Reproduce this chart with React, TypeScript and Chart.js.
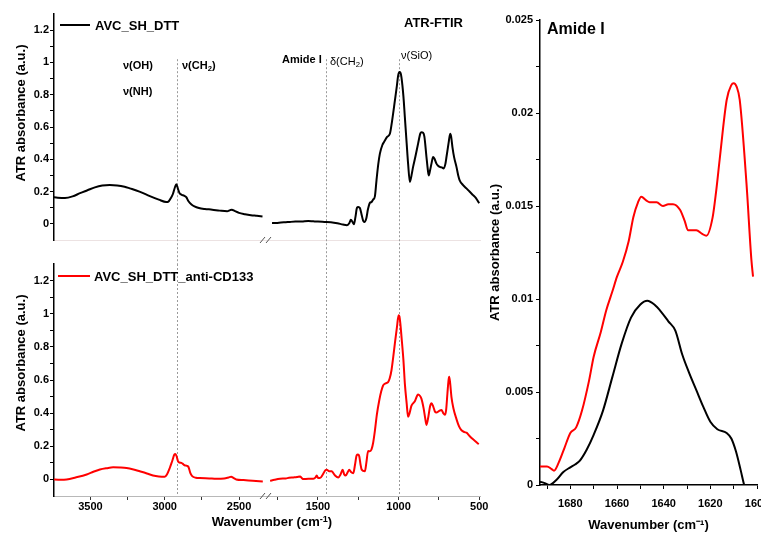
import React, { useEffect, useRef } from 'react';
import { Chart, registerables } from 'chart.js';

Chart.register(...registerables);

const FONT = '"Liberation Sans", Arial, Helvetica, sans-serif';

// ---------------- DATA ----------------
// AVC_SH_DTT (black), high-wavenumber segment
const dttHighWn = [3760, 3720, 3671, 3620, 3570, 3520, 3470, 3420, 3370, 3320, 3270, 3235, 3170, 3100, 3040, 2990, 2975, 2960, 2945, 2930, 2922, 2912, 2900, 2885, 2870, 2855, 2840, 2820, 2800, 2770, 2730, 2680, 2630, 2580, 2560, 2548, 2530, 2500, 2460, 2420, 2380, 2342];
const dttHighAbs = [0.166, 0.162, 0.16, 0.17, 0.19, 0.208, 0.226, 0.237, 0.24, 0.238, 0.23, 0.22, 0.2, 0.172, 0.15, 0.135, 0.138, 0.158, 0.185, 0.23, 0.246, 0.22, 0.19, 0.18, 0.175, 0.165, 0.14, 0.12, 0.108, 0.098, 0.092, 0.088, 0.082, 0.078, 0.085, 0.088, 0.08, 0.068, 0.06, 0.054, 0.05, 0.046];
// AVC_SH_DTT (black), low-wavenumber segment
const dttLowWn = [1785, 1760, 1730, 1700, 1673, 1640, 1600, 1560, 1530, 1500, 1460, 1420, 1380, 1345, 1320, 1305, 1296, 1285, 1277, 1268, 1258, 1250, 1240, 1230, 1220, 1212, 1200, 1190, 1178, 1168, 1158, 1147, 1137, 1126, 1116, 1100, 1091, 1070, 1054, 1040, 1023, 1010, 1003, 995, 988, 982, 970, 961, 950, 941, 930, 920, 910, 895, 879, 865, 858, 848, 840, 827, 818, 813, 805, 796, 786, 778, 765, 755, 745, 732, 720, 710, 703, 690, 680, 674, 666, 655, 641, 630, 621, 600, 579, 560, 538, 520, 500];
const dttLowAbs = [0.006, 0.005, 0.008, 0.01, 0.012, 0.014, 0.015, 0.018, 0.016, 0.014, 0.012, 0.01, 0.004, -0.004, -0.008, 0.005, 0.025, 0.01, -0.002, 0.04, 0.1, 0.105, 0.098, 0.06, 0.02, 0.012, 0.035, 0.09, 0.13, 0.135, 0.15, 0.17, 0.27, 0.37, 0.435, 0.49, 0.506, 0.54, 0.558, 0.64, 0.763, 0.86, 0.917, 0.94, 0.935, 0.906, 0.79, 0.66, 0.5, 0.373, 0.26, 0.3, 0.353, 0.42, 0.497, 0.56, 0.568, 0.565, 0.54, 0.414, 0.33, 0.3, 0.33, 0.373, 0.414, 0.405, 0.373, 0.36, 0.353, 0.35, 0.343, 0.37, 0.414, 0.5, 0.558, 0.54, 0.476, 0.41, 0.353, 0.3, 0.27, 0.24, 0.22, 0.2, 0.178, 0.16, 0.127];

// AVC_SH_DTT_anti-CD133 (red), high-wavenumber segment
const cdHighWn = [3760, 3700, 3660, 3600, 3525, 3480, 3436, 3390, 3347, 3300, 3257, 3210, 3168, 3120, 3079, 3040, 3000, 2985, 2966, 2950, 2935, 2928, 2920, 2911, 2900, 2888, 2875, 2866, 2850, 2840, 2828, 2815, 2790, 2765, 2700, 2653, 2600, 2570, 2553, 2535, 2519, 2470, 2408, 2340];
const cdHighAbs = [0.0, -0.002, 0.0, 0.012, 0.03, 0.046, 0.06, 0.068, 0.073, 0.072, 0.069, 0.06, 0.049, 0.036, 0.024, 0.018, 0.016, 0.03, 0.069, 0.11, 0.15, 0.154, 0.14, 0.11, 0.102, 0.1, 0.092, 0.085, 0.082, 0.075, 0.04, 0.02, 0.01, 0.008, 0.006, 0.004, 0.006, 0.012, 0.016, 0.008, 0.0, -0.004, -0.008, -0.012];
// AVC_SH_DTT_anti-CD133 (red), low-wavenumber segment
const cdLowWn = [1797, 1770, 1735, 1700, 1680, 1653, 1630, 1611, 1600, 1591, 1560, 1529, 1515, 1508, 1498, 1488, 1470, 1455, 1446, 1430, 1415, 1395, 1374, 1360, 1347, 1337, 1327, 1315, 1306, 1295, 1281, 1270, 1260, 1252, 1244, 1236, 1229, 1209, 1200, 1189, 1178, 1168, 1158, 1147, 1135, 1120, 1108, 1096, 1080, 1065, 1055, 1044, 1033, 1023, 1010, 1000, 995, 988, 982, 970, 961, 950, 941, 932, 920, 900, 879, 868, 858, 845, 835, 827, 815, 805, 796, 785, 775, 765, 750, 734, 723, 713, 705, 697, 690, 686, 680, 672, 660, 641, 625, 610, 590, 579, 560, 538, 520, 503];
const cdLowAbs = [-0.008, -0.002, 0.004, 0.006, 0.01, 0.012, 0.014, 0.018, 0.008, 0.002, 0.004, 0.004, 0.012, 0.024, 0.008, 0.008, 0.03, 0.055, 0.059, 0.05, 0.049, 0.025, 0.012, 0.03, 0.059, 0.03, 0.024, 0.045, 0.059, 0.045, 0.038, 0.09, 0.146, 0.15, 0.14, 0.09, 0.059, 0.049, 0.1, 0.171, 0.17, 0.181, 0.22, 0.293, 0.39, 0.476, 0.53, 0.567, 0.58, 0.587, 0.61, 0.659, 0.74, 0.821, 0.92, 0.99, 0.985, 0.93, 0.862, 0.72, 0.577, 0.46, 0.378, 0.4, 0.445, 0.47, 0.512, 0.505, 0.486, 0.43, 0.37, 0.329, 0.38, 0.44, 0.459, 0.44, 0.41, 0.404, 0.412, 0.419, 0.4, 0.39, 0.42, 0.52, 0.6, 0.62, 0.58, 0.496, 0.43, 0.364, 0.32, 0.297, 0.285, 0.282, 0.262, 0.242, 0.228, 0.212];

// Amide I zoom
const amideDttWn = [1693, 1691, 1689, 1686, 1683, 1680, 1678, 1676, 1673, 1670, 1666, 1662, 1658, 1654, 1650, 1647, 1644, 1641, 1638, 1635, 1632, 1629, 1626, 1623, 1620, 1617, 1613, 1611, 1609, 1607, 1605.5, 1604];
const amideDttAbs = [0.00018, 0.0001, 0.0, 0.00027, 0.0007, 0.00095, 0.0011, 0.0013, 0.0019, 0.0027, 0.004, 0.0058, 0.0076, 0.009, 0.0097, 0.0099, 0.0097, 0.0093, 0.0088, 0.0083, 0.007, 0.006, 0.0051, 0.0042, 0.0034, 0.003, 0.0028, 0.0025, 0.0018, 0.0008, 0.0, -0.0006];
const amideCdWn = [1693, 1690, 1688, 1687, 1685, 1682.5, 1680, 1677.5, 1675, 1672, 1670, 1667, 1664.6, 1662, 1660, 1657.5, 1655, 1653, 1651, 1649.6, 1647.5, 1646, 1643, 1640.3, 1638, 1636, 1633, 1631, 1629.6, 1626, 1623.5, 1621.7, 1619, 1617.5, 1616, 1613, 1611, 1610, 1608.7, 1607.4, 1604.5, 1602.4, 1601.7];
const amideCdAbs = [0.001, 0.001, 0.00085, 0.00077, 0.0012, 0.002, 0.0028, 0.0031, 0.004, 0.0056, 0.0069, 0.0082, 0.0094, 0.0104, 0.0112, 0.012, 0.0131, 0.0144, 0.0152, 0.0155, 0.0153, 0.0152, 0.0152, 0.015, 0.0151, 0.0151, 0.0148, 0.0142, 0.0137, 0.0137, 0.0135, 0.0134, 0.0144, 0.0158, 0.0175, 0.0207, 0.0215, 0.0216, 0.0214, 0.0207, 0.0162, 0.0121, 0.0112];

// Axes ranges and ticks
const highRange = [2305, 3745];
const lowRange = [495, 1810];
const highTicks = [3500, 3250, 3000, 2750, 2500];
const highLabels = [3500, 3000, 2500];
const lowTicks = [1750, 1500, 1250, 1000, 750, 500];
const lowLabels = [1500, 1000, 500];
const absTicks = [0, 0.1, 0.2, 0.3, 0.4, 0.5, 0.6, 0.7, 0.8, 0.9, 1, 1.1, 1.2];
const absLabels = [0, 0.2, 0.4, 0.6, 0.8, 1, 1.2];
const amideRange = [1600, 1693];
const amideTicks = [1690, 1680, 1670, 1660, 1650, 1640, 1630, 1620, 1610, 1600];
const amideLabels = [1680, 1660, 1640, 1620, 1600];
const amideAbsTicks = [0, 0.0025, 0.005, 0.0075, 0.01, 0.0125, 0.015, 0.0175, 0.02, 0.0225, 0.025];
const amideAbsLabels = [0, 0.005, 0.01, 0.015, 0.02, 0.025];

// band markers (dashed lines)
const markerWn = [2920, 1450, 1000];
const markerTopAbs = 1.02;

// ---------------- helpers ----------------
const pts = (xs: number[], ys: number[]) => xs.map((x, i) => ({ x, y: ys[i] }));
const near = (arr: number[], v: number) => arr.find((m) => Math.abs(m - v) < 1e-9);
const tickFont = { family: FONT, size: 11, weight: 'bold' as const };
const titleFont = { family: FONT, size: 13, weight: 'bold' as const };

function leftConfig(isBottom: boolean, color: string, high: any[], low: any[]): any {
  const xCommon = (range: number[], ticks: number[], labels: number[], weight: number) => ({
    type: 'linear',
    position: 'bottom',
    stack: 'wn',
    stackWeight: weight,
    reverse: true,
    min: range[0],
    max: range[1],
    afterBuildTicks: (s: any) => {
      s.ticks = ticks.map((v) => ({ value: v }));
    },
    afterFit: (s: any) => {
      s.height = isBottom ? 38 : 24;
    },
    ticks: {
      display: isBottom,
      autoSkip: false,
      maxRotation: 0,
      padding: 0,
      color: '#000',
      font: tickFont,
      callback: (v: number) => {
        const m = near(labels, v);
        return m !== undefined ? String(m) : '';
      },
    },
    grid: { display: isBottom, drawOnChartArea: false, tickLength: 4, tickColor: '#333', tickWidth: 1 },
    border: { display: true, color: isBottom ? '#b8b8b8' : '#ece2e2', width: 1 },
  });

  const markers = {
    id: 'markers',
    beforeDatasetsDraw(chart: any) {
      const { ctx, chartArea } = chart;
      const xh = chart.scales.xHigh;
      const xl = chart.scales.xLow;
      const y = chart.scales.y;
      ctx.save();
      ctx.strokeStyle = '#9a9a9a';
      ctx.lineWidth = 1;
      ctx.setLineDash([2, 2]);
      markerWn.forEach((w) => {
        const sc = w >= highRange[0] ? xh : xl;
        const px = Math.round(sc.getPixelForValue(w)) + 0.5;
        const y0 = isBottom ? chartArea.top : y.getPixelForValue(markerTopAbs);
        const y1 = isBottom ? chartArea.bottom : chart.height;
        ctx.beginPath();
        ctx.moveTo(px, y0);
        ctx.lineTo(px, y1);
        ctx.stroke();
      });
      ctx.restore();
    },
    afterDraw(chart: any) {
      const { ctx, chartArea } = chart;
      const jx = chart.scales.xHigh.right;
      const by = chartArea.bottom;
      ctx.save();
      ctx.strokeStyle = '#555';
      ctx.lineWidth = 1;
      for (let i = 0; i < 2; i++) {
        ctx.beginPath();
        ctx.moveTo(jx - 8 + i * 6, by + 3);
        ctx.lineTo(jx - 3 + i * 6, by - 3);
        ctx.stroke();
      }
      ctx.restore();
    },
  };

  const ds = (data: any[], axis: string) => ({
    data,
    xAxisID: axis,
    yAxisID: 'y',
    borderColor: color,
    backgroundColor: color,
    borderWidth: 2,
    pointRadius: 0,
    fill: false,
    cubicInterpolationMode: 'monotone',
  });

  return {
    type: 'line',
    data: { datasets: [ds(high, 'xHigh'), ds(low, 'xLow')] },
    options: {
      responsive: false,
      animation: false,
      events: [],
      layout: { padding: { left: 8, right: 20, top: isBottom ? 20 : 14, bottom: 0 } },
      plugins: { legend: { display: false }, tooltip: { enabled: false } },
      scales: {
        xHigh: xCommon(highRange, highTicks, highLabels, 214),
        xLow: xCommon(lowRange, lowTicks, lowLabels, 212),
        y: {
          type: 'linear',
          position: 'left',
          min: -0.1,
          max: 1.3,
          afterBuildTicks: (s: any) => {
            s.ticks = absTicks.map((v) => ({ value: v }));
          },
          afterFit: (s: any) => {
            s.width = 46;
          },
          ticks: {
            autoSkip: false,
            padding: 1,
            color: '#000',
            font: tickFont,
            callback: (v: number) => {
              const m = near(absLabels, v);
              return m !== undefined ? String(m) : '';
            },
          },
          grid: { drawOnChartArea: false, tickLength: 4, tickColor: '#000', tickWidth: 1 },
          border: { display: true, color: '#000', width: 1.5 },
          title: { display: false },
        },
      },
    },
    plugins: [markers],
  };
}

function amideConfig(): any {
  const ds = (data: any[], color: string) => ({
    data,
    xAxisID: 'x',
    yAxisID: 'y',
    borderColor: color,
    backgroundColor: color,
    borderWidth: 2,
    pointRadius: 0,
    fill: false,
    cubicInterpolationMode: 'monotone',
  });
  return {
    type: 'line',
    data: {
      datasets: [ds(pts(amideCdWn, amideCdAbs), '#ff0000'), ds(pts(amideDttWn, amideDttAbs), '#000000')],
    },
    options: {
      responsive: false,
      animation: false,
      events: [],
      layout: { padding: { left: 4, right: 33, top: 20, bottom: 0 } },
      plugins: { legend: { display: false }, tooltip: { enabled: false } },
      scales: {
        x: {
          type: 'linear',
          position: 'bottom',
          reverse: true,
          min: amideRange[0],
          max: amideRange[1],
          afterBuildTicks: (s: any) => {
            s.ticks = amideTicks.map((v) => ({ value: v }));
          },
          afterFit: (s: any) => {
            s.height = 49;
          },
          ticks: {
            autoSkip: false,
            maxRotation: 0,
            padding: 8,
            color: '#000',
            font: tickFont,
            callback: (v: number) => {
              const m = near(amideLabels, v);
              return m !== undefined ? String(m) : '';
            },
          },
          grid: { drawOnChartArea: false, tickLength: 4, tickColor: '#000', tickWidth: 1 },
          border: { display: true, color: '#000', width: 1.5 },
          title: {
            display: true,
            text: 'Wavenumber (cm\u207B\u00B9)',
            color: '#000',
            font: titleFont,
            padding: { top: 0, bottom: 1 },
          },
        },
        y: {
          type: 'linear',
          position: 'left',
          min: 0,
          max: 0.025,
          afterBuildTicks: (s: any) => {
            s.ticks = amideAbsTicks.map((v) => ({ value: v }));
          },
          afterFit: (s: any) => {
            s.width = 56;
          },
          ticks: {
            autoSkip: false,
            padding: 3,
            color: '#000',
            font: tickFont,
            callback: (v: number) => {
              const m = near(amideAbsLabels, v);
              return m !== undefined ? String(m) : '';
            },
          },
          grid: { drawOnChartArea: false, tickLength: 4, tickColor: '#000', tickWidth: 1 },
          border: { display: true, color: '#000', width: 1.5 },
          title: {
            display: true,
            text: 'ATR absorbance (a.u.)',
            color: '#000',
            font: titleFont,
            padding: { top: 4, bottom: 0 },
          },
        },
      },
    },
  };
}

function ChartBox({ make, left, top, width, height }: any) {
  const ref = useRef<HTMLCanvasElement>(null);
  useEffect(() => {
    const chart = new Chart(ref.current as HTMLCanvasElement, make());
    return () => chart.destroy();
  }, []);
  return (
    <div style={{ position: 'absolute', left, top, width, height }}>
      <canvas ref={ref} width={width} height={height} style={{ width, height, display: 'block' }} />
    </div>
  );
}

function Label({ x, cy, size, bold = true, children, center = false }: any) {
  return (
    <div
      style={{
        position: 'absolute',
        left: x,
        top: cy - size / 2,
        fontSize: size,
        lineHeight: 1,
        fontWeight: bold ? 'bold' : 'normal',
        whiteSpace: 'nowrap',
        color: '#000',
        transform: center ? 'translateX(-50%)' : undefined,
      }}
    >
      {children}
    </div>
  );
}

function YTitle({ cx, cy, text }: any) {
  return (
    <div
      style={{
        position: 'absolute',
        left: cx,
        top: cy,
        fontSize: 13,
        lineHeight: 1,
        fontWeight: 'bold',
        whiteSpace: 'nowrap',
        color: '#000',
        transform: 'translate(-50%, -50%) rotate(-90deg)',
      }}
    >
      {text}
    </div>
  );
}

const sub2 = <sub style={{ fontSize: '0.7em', verticalAlign: '-0.25em', lineHeight: 0 }}>2</sub>;

export default function App() {
  return (
    <div
      style={{
        position: 'absolute',
        left: 0,
        top: 0,
        width: 761,
        height: 534,
        overflow: 'hidden',
        background: '#fff',
        fontFamily: FONT,
      }}
    >
      <ChartBox
        make={() => leftConfig(false, '#000000', pts(dttHighWn, dttHighAbs), pts(dttLowWn, dttLowAbs))}
        left={0}
        top={0}
        width={500}
        height={264}
      />
      <ChartBox
        make={() => leftConfig(true, '#ff0000', pts(cdHighWn, cdHighAbs), pts(cdLowWn, cdLowAbs))}
        left={0}
        top={244}
        width={500}
        height={290}
      />
      <ChartBox make={amideConfig} left={480} top={0} width={310} height={534} />

      {/* left y-axis titles */}
      <YTitle cx={20} cy={113} text="ATR absorbance (a.u.)" />
      <YTitle cx={20} cy={363} text="ATR absorbance (a.u.)" />

      {/* legends */}
      <div style={{ position: 'absolute', left: 60, top: 24, width: 30, height: 2, background: '#000' }} />
      <Label x={95} cy={25} size={13}>AVC_SH_DTT</Label>
      <div style={{ position: 'absolute', left: 58, top: 275, width: 32, height: 2, background: '#ff0000' }} />
      <Label x={94} cy={276} size={13}>AVC_SH_DTT_anti-CD133</Label>

      {/* annotations */}
      <Label x={404} cy={22} size={13}>ATR-FTIR</Label>
      <Label x={123} cy={65} size={11}>ν(OH)</Label>
      <Label x={123} cy={91} size={11}>ν(NH)</Label>
      <Label x={182} cy={65} size={11}>ν(CH{sub2})</Label>
      <Label x={282} cy={59} size={11}>Amide I</Label>
      <Label x={330} cy={61} size={11} bold={false}>δ(CH{sub2})</Label>
      <Label x={401} cy={55} size={11} bold={false}>ν(SiO)</Label>
      <Label x={547} cy={29} size={16}>Amide I</Label>

      {/* left x-axis title */}
      <Label x={272} cy={521} size={13} center>
        Wavenumber (cm<sup style={{ fontSize: '0.7em', verticalAlign: '0.45em', lineHeight: 0 }}>-1</sup>)
      </Label>
    </div>
  );
}
